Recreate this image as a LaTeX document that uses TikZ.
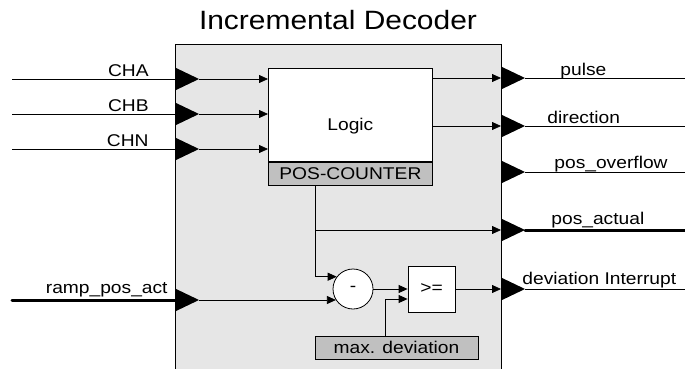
\documentclass[tikz,border=0pt]{standalone}
\usepackage{fontspec}
\setmainfont{Liberation Sans}[FakeStretch=1.13]
\usepackage{xcolor}
\usetikzlibrary{arrows.meta,positioning,calc}
\definecolor{boxgray}{RGB}{230,230,230}
\definecolor{stripgray}{RGB}{192,192,192}

\begin{document}
\begin{tikzpicture}[x=1pt, y=-1pt, line width=0.8pt,
    lbl/.style={font=\fontsize{17}{20}\selectfont, inner sep=0pt},
    block/.style={draw, fill=white, inner sep=0pt},
    strip/.style={draw, fill=stripgray, inner sep=0pt},
    port/.style={fill=black},
    arr/.style={-{Triangle[length=9pt,width=8pt]}},
    bus/.style={line width=3pt, line cap=round}
]
\useasboundingbox (0,0) rectangle (685,369);

% Title
\node[font=\fontsize{26.5}{30}\selectfont, inner sep=0pt, anchor=base] (title) at (338,29.5) {Incremental Decoder};

% Decoder block
\node[draw, fill=boxgray, minimum width=326pt, minimum height=335pt, anchor=north west] (dec) at (175,44) {};

% Input ports
\foreach \y/\n in {79/cha,114/chb,149/chn,300/ramp} {
    \fill[port] (175,\y-11.5) -- (199,\y) -- (175,\y+11.5) -- cycle;
    \coordinate (base\n) at (175,\y);
    \coordinate (in\n) at (199,\y);
    \coordinate (src\n) at (12,\y);
}

% Output ports
\foreach \y/\n in {78/pulse,126/dir,172/ovf,230/pos,289/dev} {
    \fill[port] (501,\y-11.5) -- (525,\y) -- (501,\y+11.5) -- cycle;
    \coordinate (out\n) at (501,\y);
    \coordinate (tip\n) at (525,\y);
    \coordinate (end\n) at (685,\y);
}

% Inner blocks
\node[block, minimum width=164pt, minimum height=93pt, anchor=north west] (logic) at (268,68) {};
\node[lbl] (logictext) at ([yshift=-11pt]logic.center) {Logic};
\node[strip, lbl, minimum width=164pt, minimum height=23pt, below=0pt of logic] (cnt) {POS-COUNTER};
\node[block, lbl, circle, minimum size=40pt] (sub) at (353,289) {-};
\node[block, lbl, minimum width=47pt, minimum height=46pt] (ge) at (431.5,289) {>=};
\node[strip, lbl, minimum width=163pt, minimum height=23pt] (maxdev) at (396.5,347.5) {max. deviation};

% Input lines and labels
\draw (srccha) -- (basecha);
\draw (srcchb) -- (basechb);
\draw (srcchn) -- (basechn);
\draw[bus] (srcramp) -- (baseramp);
\node[lbl, anchor=base east] (lcha) at (149,76.5) {CHA};
\node[lbl, anchor=base east] (lchb) at (149,111.5) {CHB};
\node[lbl, anchor=base east] (lchn) at (149,146.5) {CHN};
\node[lbl, anchor=base east] (lramp) at (168,293) {ramp\_pos\_act};

% Output lines and labels
\draw (tippulse) -- (endpulse);
\draw (tipdir) -- (enddir);
\draw (tipovf) -- (endovf);
\draw[bus] (tippos) -- (endpos);
\draw (tipdev) -- (enddev);
\node[lbl, anchor=base west] (lpulse) at (560,75) {pulse};
\node[lbl, anchor=base west] (ldir) at (547,123) {direction};
\node[lbl, anchor=base west] (lovf) at (554,168) {pos\_overflow};
\node[lbl, anchor=base west] (lpos) at (551,224) {pos\_actual};
\node[lbl, anchor=base west] (ldev) at (522,284) {deviation Interrupt};

% Inner connections
\draw[arr] (incha) -- (incha -| logic.west);
\draw[arr] (inchb) -- (inchb -| logic.west);
\draw[arr] (inchn) -- (inchn -| logic.west);
\draw[arr] (outpulse -| logic.east) -- (outpulse);
\draw[arr] (outdir -| logic.east) -- (outdir);

\coordinate (fb) at ([xshift=-35pt]cnt.south);
\draw[arr] (fb) |- (sub.143);
\draw[arr] (fb |- outpos) -- (outpos);
\draw[arr] (inramp) -- (inramp -| sub.213);
\draw[arr] (sub.east) -- (ge.west);
\coordinate (mdtap) at ([xshift=-11.5pt]maxdev.north);
\draw[arr] (mdtap) |- ([yshift=-10pt]ge.west);
\draw[arr] (ge.east) -- (outdev);

\end{tikzpicture}
\end{document}
